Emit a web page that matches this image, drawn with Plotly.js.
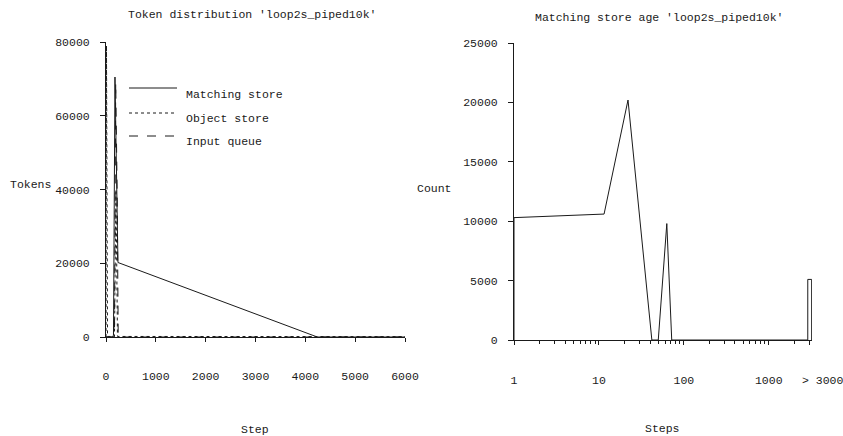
<!DOCTYPE html>
<html>
<head>
<meta charset="utf-8">
<script src="https://cdn.plot.ly/plotly-3.0.1.min.js"></script>
<style>html,body{margin:0;padding:0;background:#fff;}#chart{width:843px;height:436px;}</style>
</head>
<body>
<div id="chart"></div>
<script>
// Left chart: token distribution
const stepMatching = [0, 130, 150, 180, 240, 4240, 6000];
const tokMatching  = [0, 0, 500, 70500, 20200, 0, 0];
const stepObject   = [0, 10, 30, 170, 200, 230, 6000];
const tokObject    = [0, 79000, 150, 150, 40000, 150, 100];
const stepInput    = [0, 170, 195, 225, 245, 6000];
const tokInput     = [0, 0, 69000, 38000, 0, 0];
const leftXTicks   = [0, 1000, 2000, 3000, 4000, 5000, 6000];
const leftYTicks   = [0, 20000, 40000, 60000, 80000];

// Right chart: matching store age
const ageSteps  = [1, 1, 11.5, 22, 42, 50, 63, 72, 2880, 2880, 3200, 3200];
const ageCount  = [0, 10300, 10600, 20200, 0, 0, 9800, 0, 0, 5100, 5100, 0];
const rightXTicks = [1, 10, 100, 1000, 3000];
const rightXText  = ['1', '10', '100', '1000', '> 3000'];
const rightYTicks = [0, 5000, 10000, 15000, 20000, 25000];

const seriesNames = ['Matching store', 'Object store', 'Input queue'];

const FONT = 'Liberation Mono, DejaVu Sans Mono, monospace';
const INK = '#1a1a1a';
const W = 843, H = 436;
const px = v => v / W;
const py = v => 1 - v / H;

const lineCommon = {mode: 'lines', showlegend: false, hoverinfo: 'skip'};
const traces = [
  Object.assign({x: stepMatching, y: tokMatching, line: {color: INK, width: 1, dash: 'solid'}, name: seriesNames[0], xaxis: 'x', yaxis: 'y'}, lineCommon),
  Object.assign({x: stepObject, y: tokObject, line: {color: INK, width: 1, dash: 'dot'}, name: seriesNames[1], xaxis: 'x', yaxis: 'y'}, lineCommon),
  Object.assign({x: stepInput, y: tokInput, line: {color: INK, width: 1, dash: 'dash'}, name: seriesNames[2], xaxis: 'x', yaxis: 'y'}, lineCommon),
  Object.assign({x: ageSteps, y: ageCount, line: {color: INK, width: 1}, name: 'Age', xaxis: 'x2', yaxis: 'y2'}, lineCommon)
];

const axisBase = {
  showgrid: false, zeroline: false, showline: true, linecolor: INK, linewidth: 1,
  ticks: 'outside', ticklen: 5, tickcolor: INK, tickwidth: 1,
  ticklabeloverflow: 'allow', tickangle: 0,
  tickfont: {family: FONT, size: 11.5, color: INK}
};

// the last log-axis label is drawn left-aligned at its tick, as in the original
const lastIdx = rightXTicks.length - 1;
const rightXTextShown = rightXText.map((t, i) => i === lastIdx ? '' : t);

const layout = {
  width: W, height: H,
  margin: {l: 0, r: 0, t: 0, b: 0},
  paper_bgcolor: '#fff', plot_bgcolor: '#fff',
  showlegend: false,
  xaxis: Object.assign({}, axisBase, {
    domain: [px(106), px(405)], range: [0, 6000], anchor: 'y',
    tickmode: 'array', tickvals: leftXTicks, ticktext: leftXTicks.map(String),
    ticklen: 4, ticklabelstandoff: 24
  }),
  yaxis: Object.assign({}, axisBase, {
    domain: [py(337), py(42)], range: [0, 80000], anchor: 'x',
    tickmode: 'array', tickvals: leftYTicks, ticktext: leftYTicks.map(String),
    ticklabelstandoff: 8
  }),
  xaxis2: Object.assign({}, axisBase, {
    type: 'log', domain: [px(514), px(812)], range: [0, Math.log10(3230)], anchor: 'y2',
    tickmode: 'array', tickvals: rightXTicks, ticktext: rightXTextShown,
    ticklen: 4, ticklabelstandoff: 25,
    minor: {dtick: 'D1', ticks: 'outside', ticklen: 3, tickcolor: INK, showgrid: false}
  }),
  yaxis2: Object.assign({}, axisBase, {
    domain: [py(340), py(43)], range: [0, 25000], anchor: 'x2',
    tickmode: 'array', tickvals: rightYTicks, ticktext: rightYTicks.map(String),
    ticklabelstandoff: 8
  }),
  shapes: [
    {type: 'line', xref: 'paper', yref: 'paper', x0: px(129), x1: px(177), y0: py(88), y1: py(88), line: {color: INK, width: 1, dash: 'solid'}},
    {type: 'line', xref: 'paper', yref: 'paper', x0: px(129), x1: px(177), y0: py(113), y1: py(113), line: {color: INK, width: 1, dash: 'dot'}},
    {type: 'line', xref: 'paper', yref: 'paper', x0: px(129), x1: px(177), y0: py(136), y1: py(136), line: {color: INK, width: 1, dash: 'dash'}}
  ],
  annotations: [{
    text: rightXText[lastIdx], xref: 'x2', yref: 'paper',
    x: Math.log10(rightXTicks[lastIdx]), y: py(380),
    xanchor: 'left', yanchor: 'middle', xshift: -9, showarrow: false,
    font: {family: FONT, size: 11.5, color: INK}
  }]
};

function ann(text, x, y, size, xanchor) {
  layout.annotations.push({
    text: text, xref: 'paper', yref: 'paper', x: px(x), y: py(y),
    xanchor: xanchor || 'center', yanchor: 'middle', showarrow: false,
    font: {family: FONT, size: size || 11.5, color: INK}
  });
}
ann("Token distribution 'loop2s_piped10k'", 252, 15, 11.5);
ann("Matching store age 'loop2s_piped10k'", 659, 18, 11.5);
ann(seriesNames[0], 184, 95, 11.5, 'left');
ann(seriesNames[1], 184, 118, 11.5, 'left');
ann(seriesNames[2], 184, 142, 11.5, 'left');
ann('Tokens', 8, 184, 11.5, 'left');
ann('Count', 415, 188, 11.5, 'left');
ann('Step', 255, 429, 11.5);
ann('Steps', 662, 428, 11.5);

Plotly.newPlot('chart', traces, layout, {staticPlot: true, displayModeBar: false});
</script>
</body>
</html>
